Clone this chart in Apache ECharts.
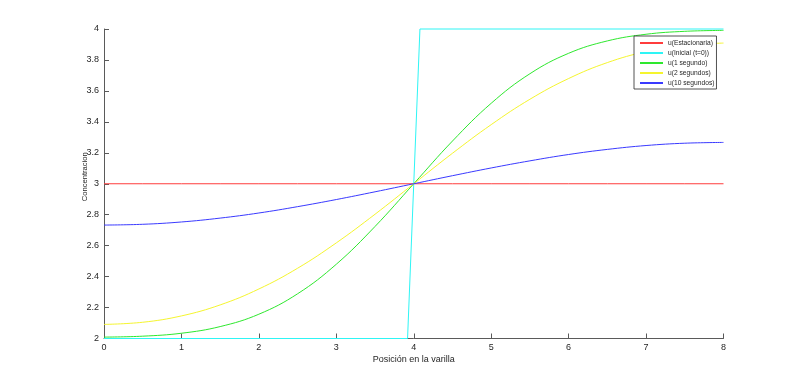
<!DOCTYPE html>
<html>
<head>
<meta charset="utf-8">
<script src="https://cdn.jsdelivr.net/npm/echarts@6/dist/echarts.min.js"></script>
<style>
html,body{margin:0;padding:0;background:#fff;}
#chart{width:800px;height:381px;}
</style>
</head>
<body>
<div id="chart"></div>
<script>
// Data
const xPositions = [0, 0.5, 1, 1.5, 2, 2.5, 3, 3.5, 4, 4.5, 5, 5.5, 6, 6.5, 7, 7.5, 8];
const uEstacionaria = [3, 3, 3, 3, 3, 3, 3, 3, 3, 3, 3, 3, 3, 3, 3, 3, 3];
const uInicialX = [0, 3.92, 4.08, 8];
const uInicialY = [2, 2, 4, 4];
const u1Segundo = [2.009, 2.015, 2.034, 2.077, 2.157, 2.289, 2.480, 2.724, 3.000, 3.276, 3.520, 3.711, 3.843, 3.923, 3.966, 3.985, 3.991];
const u2Segundos = [2.091, 2.105, 2.146, 2.217, 2.320, 2.454, 2.618, 2.803, 3.000, 3.197, 3.382, 3.546, 3.680, 3.783, 3.854, 3.895, 3.909];
const u10Segundos = [2.733, 2.738, 2.753, 2.778, 2.811, 2.852, 2.898, 2.948, 3.000, 3.052, 3.102, 3.148, 3.189, 3.222, 3.247, 3.262, 3.267];
const seriesNames = ['u(Estacionaria)', 'u(Inicial (t=0))', 'u(1 segundo)', 'u(2 segundos)', 'u(10 segundos)'];
const xTitle = 'Posición en la varilla';
const yTitle = 'Concentracion';

const pair = (xs, ys) => xs.map((x, i) => [x, ys[i]]);
const FONT = '"Liberation Sans", Arial, Helvetica, sans-serif';
const AXIS_COLOR = '#5a5a5a';
const TEXT_COLOR = '#262626';

const chart = echarts.init(document.getElementById('chart'), null, {renderer: 'canvas'});
const lineSeries = (name, data, color, smooth) => ({
  name: name,
  type: 'line',
  data: data,
  symbol: 'none',
  smooth: smooth ? 0.4 : false,
  clip: false,
  lineStyle: {color: color, width: 1},
  itemStyle: {color: color},
  emphasis: {disabled: true},
  animation: false
});

chart.setOption({
  animation: false,
  backgroundColor: '#ffffff',
  textStyle: {fontFamily: FONT},
  grid: {left: 104, right: 76.5, top: 29, bottom: 42.5, containLabel: false},
  legend: {
    orient: 'vertical',
    left: 634,
    top: 36,
    data: seriesNames,
    itemWidth: 23,
    itemHeight: 10,
    itemGap: 0,
    itemTextGap: 2,
    padding: [2, 2, 1, 5],
    borderColor: '#262626',
    borderWidth: 0.8,
    backgroundColor: '#ffffff',
    itemStyle: {opacity: 0},
    textStyle: {fontSize: 6.7, lineHeight: 10, color: TEXT_COLOR, fontFamily: FONT},
    selectedMode: false
  },
  xAxis: {
    type: 'value',
    min: 0, max: 8, interval: 1,
    name: xTitle,
    nameLocation: 'middle',
    nameGap: 17,
    nameMoveOverlap: false,
    nameTextStyle: {fontSize: 9, color: TEXT_COLOR, fontFamily: FONT},
    axisLine: {show: true, onZero: false, lineStyle: {color: AXIS_COLOR, width: 1}},
    axisTick: {show: true, inside: true, length: 5, lineStyle: {color: AXIS_COLOR}},
    axisLabel: {fontSize: 9, color: TEXT_COLOR, margin: 5, fontFamily: FONT},
    splitLine: {show: false}
  },
  yAxis: {
    type: 'value',
    min: 2, max: 4, interval: 0.2,
    name: yTitle,
    nameLocation: 'middle',
    nameGap: 15.5,
    nameMoveOverlap: false,
    nameTextStyle: {fontSize: 7.6, color: TEXT_COLOR, fontFamily: FONT, padding: [0, 0, 0, 14]},
    axisLine: {show: true, onZero: false, lineStyle: {color: AXIS_COLOR, width: 1}},
    axisTick: {show: true, inside: true, length: 5, lineStyle: {color: AXIS_COLOR}},
    axisLabel: {fontSize: 9, color: TEXT_COLOR, margin: 5, fontFamily: FONT,
      formatter: v => String(Math.round(v * 10) / 10)},
    splitLine: {show: false}
  },
  series: [
    lineSeries(seriesNames[0], pair(xPositions, uEstacionaria), '#ff3c3c', false),
    lineSeries(seriesNames[1], pair(uInicialX, uInicialY), '#2ef5f5', false),
    lineSeries(seriesNames[2], pair(xPositions, u1Segundo), '#2ee82e', true),
    lineSeries(seriesNames[3], pair(xPositions, u2Segundos), '#f5f52e', true),
    lineSeries(seriesNames[4], pair(xPositions, u10Segundos), '#3a3aff', true)
  ]
});
</script>
</body>
</html>
